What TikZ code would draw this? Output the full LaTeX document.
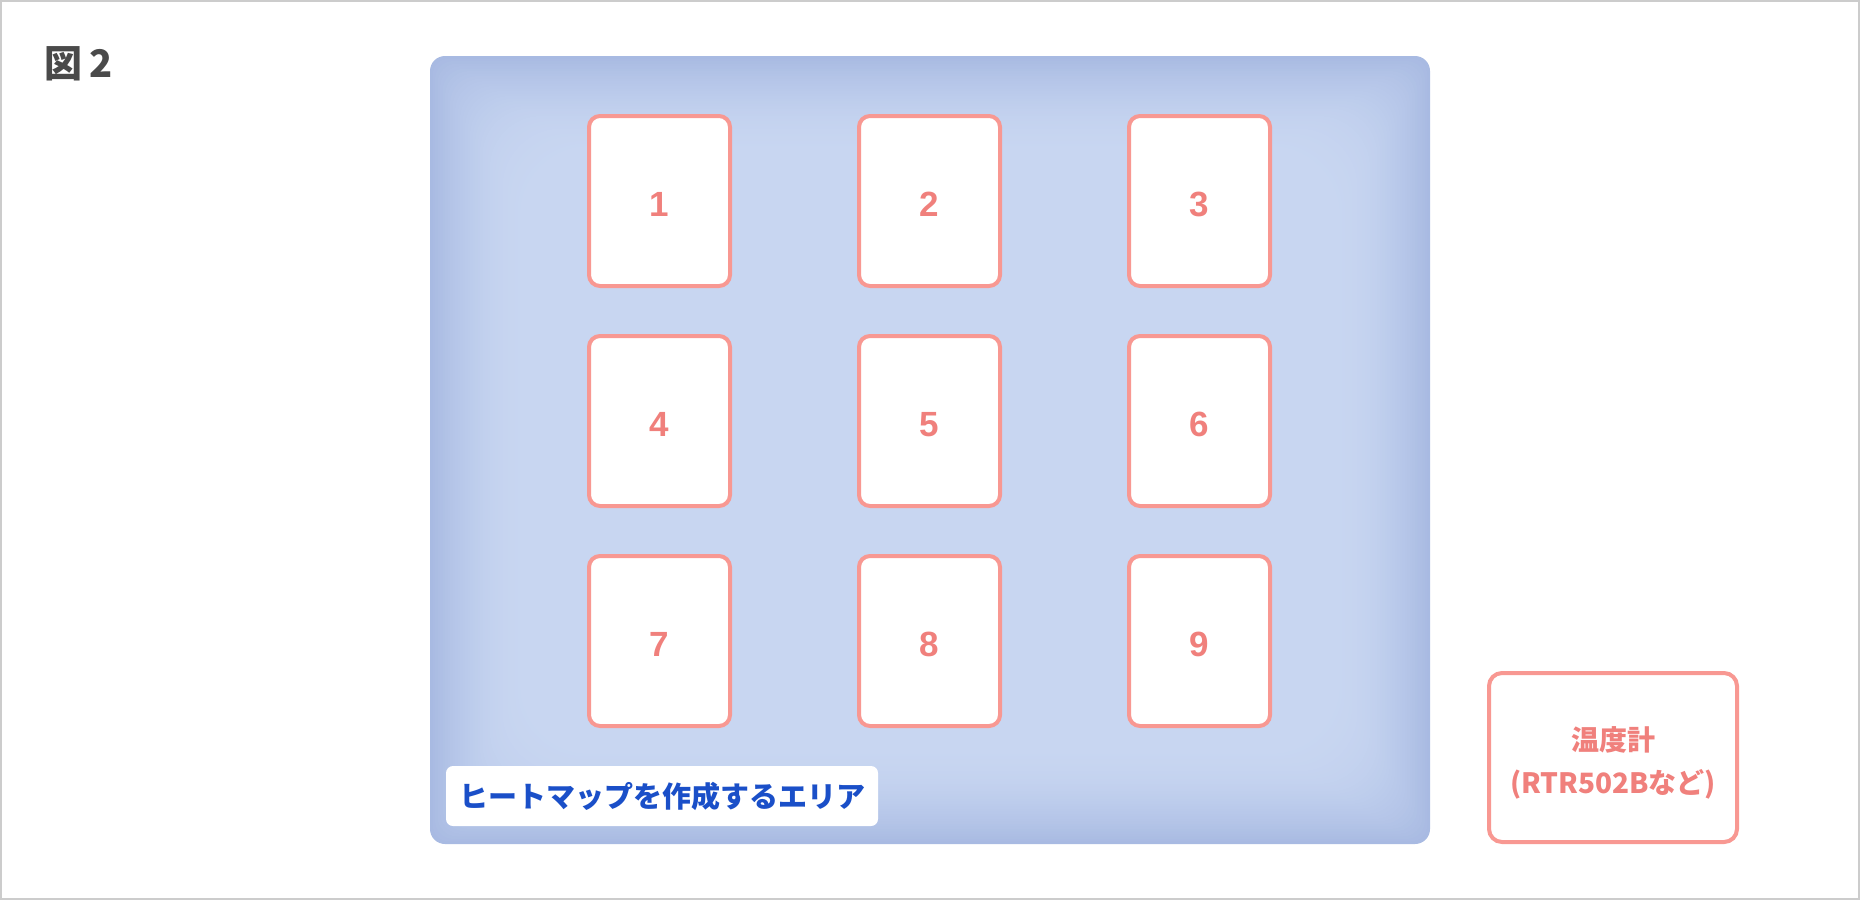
\documentclass[tikz,border=0pt]{standalone}
\usepackage{fontspec}
\newfontfamily\jp{Noto Sans CJK JP}
\newfontfamily\numfont{Liberation Sans}
\definecolor{frame}{HTML}{CCCCCC}
\definecolor{titlegray}{HTML}{4A4A4A}
\definecolor{areaedge}{HTML}{A8BAE2}
\definecolor{areacenter}{HTML}{C8D6F1}
\definecolor{cardline}{HTML}{F89892}
\definecolor{cardtext}{HTML}{F0807C}
\definecolor{labelblue}{HTML}{1A4FC8}
\tikzset{
  cardbox/.style={draw=cardline, line width=4pt, fill=white, rounded corners=11pt,
    minimum width=141pt, minimum height=170pt, inner sep=0pt, text height=31pt,
    font=\numfont\bfseries\fontsize{35}{40}\selectfont, text=cardtext},
  thermobox/.style={draw=cardline, line width=4pt, fill=white, rounded corners=13pt,
    minimum width=248pt, minimum height=169pt, inner sep=0pt},
  thermotext/.style={inner sep=0pt, align=center,
    font=\jp\bfseries\fontsize{28}{43}\selectfont, text=cardtext},
  labelbox/.style={fill=white, rounded corners=7pt, minimum width=432pt,
    minimum height=60pt, inner sep=0pt,
    font=\jp\bfseries\fontsize{29}{34}\selectfont, text=labelblue},
  titletext/.style={inner sep=0pt, anchor=west,
    font=\jp\bfseries\fontsize{38}{44}\selectfont, text=titlegray}
}
\begin{document}
\begin{tikzpicture}[x=1pt,y=-1pt]
\useasboundingbox (0,0) rectangle (1860,900);
\fill[white] (0,0) rectangle (1860,900);
\draw[frame, line width=2pt] (1,1) rectangle (1859,899);
% title
\node[titletext] (title) at (44,64) {図\kern7pt 2};
% heat map area with soft vignette (opaque nested steps)
\foreach \i in {0,...,40}{
  \pgfmathsetmacro\p{100*(1-(1-\i/40)^2)}
  \pgfmathsetmacro\r{15+\i*1.5}
  \fill[areacenter!\p!areaedge, rounded corners=\r pt]
    ({430+\i*2.5},{56+\i*2.5}) rectangle ({1430-\i*2.5},{844-\i*2.5});
}
% cards
\node[cardbox] (c1) at (659.5,201) {1};
\node[cardbox] (c2) at (929.5,201) {2};
\node[cardbox] (c3) at (1199.5,201) {3};
\node[cardbox] (c4) at (659.5,421) {4};
\node[cardbox] (c5) at (929.5,421) {5};
\node[cardbox] (c6) at (1199.5,421) {6};
\node[cardbox] (c7) at (659.5,641) {7};
\node[cardbox] (c8) at (929.5,641) {8};
\node[cardbox] (c9) at (1199.5,641) {9};
% area label
\node[labelbox] (label) at (662,796) {ヒートマップを作成するエリア};
% thermometer
\node[thermobox] (thermo) at (1613,757.5) {};
\node[thermotext] (thermolabel) at ([yshift=-5pt]thermo.center) {温度計\\(RTR502Bなど)};
\end{tikzpicture}
\end{document}
